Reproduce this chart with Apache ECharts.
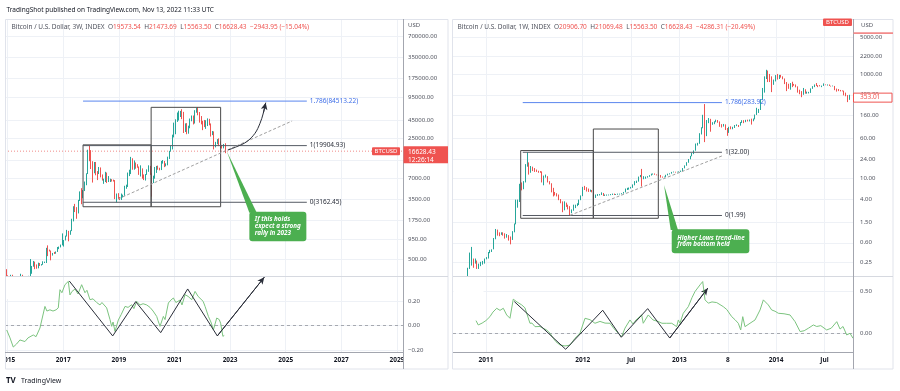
<!DOCTYPE html>
<html><head><meta charset="utf-8">
<script src="https://cdn.jsdelivr.net/npm/echarts@6/dist/echarts.min.js"></script>
<style>html,body{margin:0;padding:0;background:#fff}#c{width:900px;height:391px}</style>
</head><body><div id="c"></div>
<script>
const FONT = '"Noto Sans", "DejaVu Sans", sans-serif';
const UP = '#26a69a', DOWN = '#ef5350', GRIDC = '#eef1f6', AXISC = '#a3a6af';

// ---------- LEFT: BTCUSD 3W candles (start date + 21-day bars) ----------
const leftStart = '2014-11-24';
const leftStepDays = 21;
const leftOpen = [
375,350,275,255,235,290,247,222,242,225,
245,292,282,210,230,240,285,330,395,425,
385,375,435,412,420,445,448,700,660,655,
570,605,600,640,710,730,790,905,920,1050,
1230,1140,1250,1720,2550,2500,2250,3400,4350,4100,
4600,6100,8000,16500,13500,10800,8500,11500,8500,8100,
9400,7300,6700,6700,8200,6300,6300,6600,6450,6350,
3900,4000,3550,3450,3850,4000,5200,5300,8000,8000,
10600,10300,11400,10400,10000,8400,9400,7100,6900,7800,
8900,9700,7900,6400,6850,8600,10200,9300,9250,11200,
11750,10700,10800,13050,16700,19200,27000,36600,46400,49600,
54400,60000,56600,38800,40500,33700,35400,46000,51700,42200,
62000,66900,57800,46700,41800,38500,37000,39600,46400,40400,
29800,31300,20700,22400,23800,20200,19500,19100,19573.54];
const leftHigh = [
385,360,295,265,300,300,260,245,246,250,
310,300,285,240,245,290,500,400,470,460,
420,445,440,425,465,460,720,780,680,660,
610,630,640,740,750,800,1150,930,1070,1290,
1250,1270,1850,2780,3000,2700,3420,4500,5000,4700,
6200,8100,17400,19800,17200,12000,11700,11700,8700,9950,
9800,7800,6800,8500,8300,7400,6800,6700,6600,6500,
4200,4250,3750,4200,4050,5400,5600,8300,9100,13800,
13200,12300,11500,10900,10100,10500,9500,7800,7900,9200,
10500,10300,8100,7500,9950,10300,10400,9700,12100,12450,
12100,11200,13900,16800,19900,28400,42000,46800,58400,61800,
61400,64900,59600,41000,41300,38000,48000,52900,52900,62900,
68000,69000,59200,52000,44500,45800,45400,48200,47500,40900,
32000,31600,22500,24600,25200,22800,20400,21000,21473.69];
const leftLow = [
345,265,170,210,230,240,215,218,225,220,
240,270,195,200,225,235,280,310,390,360,
365,370,400,405,415,440,440,550,640,480,
560,590,595,630,690,730,780,750,915,1040,
890,1100,1240,1700,2300,1850,2200,3300,2970,3600,
4550,5500,7900,12000,9300,6000,8100,7600,6500,7900,
7100,6400,5750,6100,5900,6100,6100,6200,6200,3500,
3150,3500,3400,3400,3700,3900,4900,5200,7400,7900,
9100,9100,9400,9700,7700,7300,6800,6500,6400,7700,
8500,7700,3800,5900,6800,8200,9100,8900,9000,11100,
9900,10150,10500,12900,16400,17600,26000,28800,43000,45000,
50400,47000,30000,31000,28800,29300,35000,43900,39600,40800,
58000,53300,42000,39700,32900,36300,34300,37600,38500,26700,
28000,17600,18800,20800,19600,18500,18100,18200,15563.50];
const leftClose = [
350,275,255,235,290,247,222,242,225,245,
292,282,210,230,240,285,330,395,425,385,
375,435,412,420,445,448,700,660,655,570,
605,600,640,710,730,790,905,920,1050,1230,
1140,1250,1720,2550,2500,2250,3400,4350,4100,4600,
6100,8000,16500,13500,10800,8500,11500,8500,8100,9400,
7300,6700,6700,8200,6300,6300,6600,6450,6350,3900,
4000,3550,3450,3850,4000,5200,5300,8000,8000,10600,
10300,11400,10400,10000,8400,9400,7100,6900,7800,8900,
9700,7900,6400,6850,8600,10200,9300,9250,11200,11750,
10700,10800,13050,16700,19200,27000,36600,46400,49600,54400,
60000,56600,38800,40500,33700,35400,46000,51700,42200,62000,
66900,57800,46700,41800,38500,37000,39600,46400,40400,29800,
31300,20700,22400,23800,20200,19500,19100,19573.54,16628.43];

// ---------- RIGHT: BTCUSD 1W candles (2010-2014) ----------
const rightStart = '2010-09-06';
const rightStepDays = 7;
const rightOpen = [
0.060,0.062,0.062,0.063,0.062,0.064,0.100,0.100,0.190,0.260,
0.280,0.260,0.270,0.210,0.220,0.240,0.250,0.300,0.310,0.390,
0.420,0.450,0.720,1.050,0.900,0.880,0.920,0.900,0.800,0.820,
0.780,0.680,0.960,1.350,3.000,3.600,6.900,6.500,8.500,18.50,
19.00,15.00,16.50,15.50,14.50,14.00,13.70,13.50,10.00,11.00,
11.00,8.600,8.000,5.900,5.200,5.100,4.900,4.000,3.600,2.600,
3.200,3.100,2.900,2.300,2.500,2.800,3.100,3.200,3.950,4.700,
6.900,6.500,6.400,5.700,6.000,5.700,4.500,4.900,4.900,5.000,
5.300,4.800,4.800,4.900,4.900,5.000,5.100,5.000,5.000,5.100,
5.100,5.300,5.600,6.200,6.400,6.700,6.800,7.600,8.800,8.900,
10.90,11.50,10.20,10.60,10.80,11.00,11.60,12.30,12.40,12.00,
11.80,11.70,10.90,10.70,10.90,11.70,12.20,12.60,13.30,13.50,
13.30,13.40,13.70,14.10,15.90,17.80,20.40,23.60,27.00,30.30,
34.50,46.90,47.00,72.00,93.00,163.0,93.00,120.0,127.0,115.0,
115.0,123.0,128.0,122.0,101.0,100.0,107.0,88.00,76.00,96.00,
90.00,97.00,104.0,105.0,104.0,118.0,128.0,121.0,131.0,126.0,
133.0,131.0,138.0,167.0,194.0,210.0,325.0,520.0,815.0,1000,
890.0,880.0,625.0,745.0,900.0,860.0,940.0,890.0,815.0,680.0,
630.0,570.0,660.0,630.0,625.0,565.0,465.0,450.0,420.0,500.0,
440.0,440.0,440.0,525.0,580.0,630.0,600.0,595.0,590.0,595.0,
625.0,620.0,625.0,595.0,585.0,590.0,520.0,505.0,480.0,478.0,
475.0,400.0,385.0,330.0];
const rightHigh = [
0.065,0.065,0.066,0.064,0.066,0.110,0.105,0.200,0.390,0.500,
0.300,0.300,0.275,0.240,0.260,0.270,0.300,0.320,0.400,0.440,
0.450,0.740,1.100,1.070,0.950,0.950,0.950,0.910,0.880,0.840,
0.790,1.000,1.400,4.000,4.000,8.000,8.500,9.000,19.00,31.90,
20.50,17.50,17.00,16.00,15.00,14.20,14.00,13.80,11.50,12.00,
11.20,9.000,8.200,6.700,5.600,5.300,5.000,4.100,3.700,3.700,
3.500,3.200,3.000,2.600,3.200,3.200,3.400,4.000,4.800,7.000,
7.300,6.900,6.500,6.200,6.100,5.800,5.000,5.100,5.100,5.500,
5.350,5.000,5.000,5.000,5.100,5.200,5.200,5.100,5.200,5.200,
5.300,5.600,6.500,6.700,6.800,7.000,7.800,9.000,9.200,11.00,
11.80,15.40,11.20,11.00,11.20,11.70,12.50,12.60,12.60,12.10,
11.90,11.80,11.00,11.00,11.90,12.50,12.70,13.50,13.70,13.60,
13.60,13.80,14.30,16.00,18.00,20.70,23.80,27.30,31.00,34.80,
47.00,48.40,74.00,96.00,166.0,266.0,132.0,144.0,139.0,120.0,
125.0,134.0,132.0,124.0,110.0,111.0,109.0,93.00,98.00,100.0,
98.00,106.0,109.0,106.0,121.0,131.0,131.0,133.0,134.0,135.0,
140.0,141.0,168.0,226.0,215.0,330.0,540.0,900.0,1200,1160,
1000,900.0,780.0,950.0,1000,960.0,960.0,900.0,820.0,700.0,
650.0,670.0,710.0,645.0,630.0,580.0,500.0,470.0,540.0,510.0,
460.0,455.0,530.0,585.0,630.0,670.0,610.0,612.0,600.0,660.0,
630.0,630.0,628.0,595.0,600.0,590.0,525.0,515.0,495.0,485.0,
480.0,440.0,395.0,400.0];
const rightLow = [
0.058,0.058,0.060,0.060,0.060,0.062,0.090,0.100,0.190,0.220,
0.200,0.240,0.190,0.190,0.215,0.230,0.240,0.290,0.300,0.380,
0.400,0.450,0.700,0.820,0.800,0.850,0.820,0.720,0.750,0.660,
0.560,0.680,0.950,1.350,2.800,3.600,6.000,6.300,8.500,17.00,
12.00,13.00,14.00,13.50,13.50,13.00,13.00,8.500,7.500,10.50,
8.500,7.800,5.500,4.600,4.800,4.600,3.900,3.400,2.300,2.500,
2.900,2.600,2.000,2.200,2.450,2.750,3.000,3.150,3.900,4.650,
6.100,5.700,5.600,5.650,5.500,4.300,4.300,4.700,4.800,4.900,
4.700,4.700,4.750,4.800,4.850,4.900,4.900,4.900,4.950,5.000,
5.050,5.200,5.500,6.100,6.200,6.500,6.700,7.500,8.300,8.800,
10.70,7.100,9.800,10.00,10.50,10.90,11.50,12.00,11.90,11.60,
11.40,10.50,10.50,10.60,10.80,11.60,12.10,12.50,13.20,13.10,
13.20,13.30,13.50,14.00,15.80,17.70,20.20,23.50,26.80,29.50,
34.20,43.00,46.50,70.00,92.00,50.00,65.00,115.0,79.00,107.0,
110.0,120.0,117.0,98.00,95.00,99.00,85.00,66.00,75.00,88.00,
88.00,93.00,101.0,97.00,103.0,116.0,115.0,120.0,124.0,124.0,
108.0,125.0,136.0,165.0,180.0,205.0,320.0,440.0,800.0,700.0,
700.0,450.0,620.0,720.0,780.0,800.0,850.0,790.0,640.0,470.0,
520.0,500.0,560.0,595.0,555.0,440.0,410.0,360.0,400.0,420.0,
420.0,425.0,435.0,520.0,560.0,590.0,560.0,580.0,560.0,590.0,
610.0,600.0,590.0,575.0,580.0,490.0,460.0,470.0,465.0,465.0,
390.0,375.0,290.0,320.0];
const rightClose = [
0.062,0.062,0.063,0.062,0.064,0.100,0.100,0.190,0.260,0.280,
0.260,0.270,0.210,0.220,0.240,0.250,0.300,0.310,0.390,0.420,
0.450,0.720,1.050,0.900,0.880,0.920,0.900,0.800,0.820,0.780,
0.680,0.960,1.350,3.000,3.600,6.900,6.500,8.500,18.50,19.00,
15.00,16.50,15.50,14.50,14.00,13.70,13.50,10.00,11.00,11.00,
8.600,8.000,5.900,5.200,5.100,4.900,4.000,3.600,2.600,3.200,
3.100,2.900,2.300,2.500,2.800,3.100,3.200,3.950,4.700,6.900,
6.500,6.400,5.700,6.000,5.700,4.500,4.900,4.900,5.000,5.300,
4.800,4.800,4.900,4.900,5.000,5.100,5.000,5.000,5.100,5.100,
5.300,5.600,6.200,6.400,6.700,6.800,7.600,8.800,8.900,10.90,
11.50,10.20,10.60,10.80,11.00,11.60,12.30,12.40,12.00,11.80,
11.70,10.90,10.70,10.90,11.70,12.20,12.60,13.30,13.50,13.30,
13.40,13.70,14.10,15.90,17.80,20.40,23.60,27.00,30.30,34.50,
46.90,47.00,72.00,93.00,163.0,93.00,120.0,127.0,115.0,115.0,
123.0,128.0,122.0,101.0,100.0,107.0,88.00,76.00,96.00,90.00,
97.00,104.0,105.0,104.0,118.0,128.0,121.0,131.0,126.0,133.0,
131.0,138.0,167.0,194.0,210.0,325.0,520.0,815.0,1000,890.0,
880.0,625.0,745.0,900.0,860.0,940.0,890.0,815.0,680.0,630.0,
570.0,660.0,630.0,625.0,565.0,465.0,450.0,420.0,500.0,440.0,
440.0,440.0,525.0,580.0,630.0,600.0,595.0,590.0,595.0,625.0,
620.0,625.0,595.0,585.0,590.0,520.0,505.0,480.0,478.0,475.0,
400.0,385.0,330.0,353.01];

// ---------- Oscillators ----------
const leftOscYears = [2014.964,2015.083,2015.20,2015.32,2015.44,2015.62,2015.73,2015.92,2016.02,2016.16,2016.23,2016.34,2016.41,2016.52,2016.63,2016.74,2016.82,2016.88,2016.95,2017.06,2017.18,2017.24,2017.31,2017.42,2017.53,2017.66,2017.78,2017.85,2017.96,2018.07,2018.20,2018.32,2018.39,2018.56,2018.68,2018.74,2018.79,2018.86,2018.98,2019.08,2019.22,2019.33,2019.46,2019.54,2019.64,2019.76,2019.87,2020.00,2020.12,2020.23,2020.36,2020.41,2020.48,2020.60,2020.66,2020.78,2020.87,2020.96,2021.05,2021.20,2021.27,2021.38,2021.49,2021.62,2021.74,2021.85,2021.92,2022.03,2022.10,2022.22,2022.31,2022.40,2022.52,2022.61,2022.66,2022.74,2022.79];
const leftOscValues = [-0.035,-0.10,-0.175,-0.15,-0.117,-0.13,-0.10,-0.076,-0.09,-0.019,-0.03,0.158,0.12,0.13,0.12,0.13,0.146,0.295,0.27,0.336,0.363,0.252,0.28,0.30,0.26,0.336,0.27,0.29,0.213,0.22,0.19,0.17,0.19,0.146,0.05,-0.005,0.03,-0.047,0.047,0.09,0.158,0.15,0.172,0.14,0.2,0.17,0.18,0.17,0.15,0.12,0.076,0.04,-0.005,0.076,0.05,0.186,0.21,0.227,0.19,0.21,0.17,0.254,0.24,0.213,0.281,0.24,0.25,0.20,0.158,0.076,0.03,-0.033,0.063,0.05,0.02,-0.087,-0.08];
const rightOscYears = [2010.897,2010.920,2010.96,2011.0,2011.041,2011.072,2011.111,2011.145,2011.179,2011.214,2011.248,2011.282,2011.32,2011.369,2011.403,2011.455,2011.476,2011.507,2011.558,2011.589,2011.628,2011.662,2011.696,2011.724,2011.765,2011.817,2011.869,2011.920,2011.972,2012.024,2012.076,2012.127,2012.179,2012.231,2012.282,2012.32,2012.368,2012.403,2012.437,2012.489,2012.52,2012.551,2012.61,2012.626,2012.678,2012.727,2012.779,2012.82,2012.869,2012.921,2012.972,2012.989,2013.006,2013.04,2013.092,2013.13,2013.161,2013.213,2013.241,2013.265,2013.299,2013.337,2013.386,2013.454,2013.49,2013.541,2013.575,2013.609,2013.634,2013.655,2013.678,2013.730,2013.782,2013.834,2013.868,2013.919,2013.954,2013.989,2014.023,2014.082,2014.144,2014.196,2014.248,2014.29,2014.333,2014.385,2014.42,2014.462,2014.523,2014.57,2014.627,2014.661,2014.692,2014.730,2014.764,2014.795];
const rightOscValues = [0.149,0.098,0.12,0.15,0.196,0.25,0.295,0.27,0.295,0.216,0.177,0.402,0.37,0.335,0.30,0.118,0.12,0.078,0.08,0.06,0.039,0.0,-0.059,-0.10,-0.138,-0.15,-0.14,-0.059,0.0,0.177,0.16,0.118,0.14,0.12,0.118,0.06,0.0,-0.04,0.06,0.157,0.11,0.157,0.216,0.118,0.216,0.157,0.14,0.118,0.118,0.118,0.078,0.157,0.118,0.236,0.314,0.42,0.492,0.571,0.61,0.394,0.355,0.37,0.362,0.314,0.28,0.196,0.16,0.118,0.039,0.196,0.078,0.118,0.157,0.275,0.394,0.335,0.275,0.26,0.236,0.23,0.216,0.137,0.02,0.03,0.059,0.098,0.08,0.09,0.039,0.06,0.137,0.05,0.08,-0.02,0.0,-0.059];

// ---------- Drawings (data coordinates) ----------
const leftZigYears = [2017.216,2018.777,2019.604,2020.504,2021.475,2022.540,2024.230];
const leftZigValues = [0.366,-0.084,0.197,-0.057,0.301,-0.084,0.397];
const rightZigYears = [2011.293,2011.824,2012.207,2012.399,2012.672,2012.900,2013.293];
const rightZigValues = [0.374,-0.189,0.272,-0.047,0.291,-0.056,0.532];
const leftCurveYears = [2022.925,2023.237,2023.597,2023.896,2024.076,2024.194,2024.281];
const leftCurvePrices = [17260,19230,22600,29700,41100,56900,80000];
const leftFibLevels = [84513.22,19904.93,3162.45];
const leftFibLabels = ['1.786(84513.22)','1(19904.93)','0(3162.45)'];
const leftFibSpan = [2017.71,2025.76];
const rightFibLevels = [283.92,32.00,1.99];
const rightFibLabels = ['1.786(283.92)','1(32.00)','0(1.99)'];
const rightFibSpan = [2011.38,2013.44];
const leftBoxes = [[2017.71,2020.16,20400,2735],[2020.16,2022.66,69000,2735]];
const rightBoxes = [[2011.359,2012.110,34.5,1.76],[2012.110,2012.782,88.9,1.76]];
const leftTrendYears = [2018.97,2025.23];
const leftTrendPrices = [3515,44300];
const rightTrendYears = [2011.869,2013.448];
const rightTrendPrices = [2.01,27.6];
const leftNote = ['If this holds','expect a strong','rally in 2023'];
const leftNoteAnchor = [2022.88,16628.43];
const rightNote = ['Higher Lows trend-line','from bottom held'];
const rightNoteAnchor = [2012.841,7.6];

// ---------- Axes ticks ----------
const leftTickYears = [2015,2017,2019,2021,2023,2025,2027,2029];
const leftTickLabels = ['2015','2017','2019','2021','2023','2025','2027','2029'];
const rightTickYears = [2011,2012,2012.5,2013,2013.5,2014,2014.5];
const rightTickLabels = ['2011','2012','Jul','2013','8','2014','Jul'];
const leftPriceGrid = [500,950,1750,3500,7000,12500,25000,45000,95000,175000,350000,700000];
const leftPriceLabels = [500,950,1750,3500,7000,25000,45000,95000,175000,350000,700000];
const rightPriceGrid = [0.25,0.6,1.5,4,10,24,60,160,400,1000,2200,5000];
const rightPriceLabels = [0.25,0.6,1.5,4,10,24,60,160,400,1000,2200,5000];
const leftOscTicks = [-0.2,0,0.2];
const rightOscTicks = [0,0.5];

// header texts
const leftHeaderName = 'Bitcoin / U.S. Dollar, 3W, INDEX';
const leftHeaderOHLC = ['19573.54','21473.69','15563.50','16628.43'];
const leftHeaderChange = '\u22122943.95 (\u221215.04%)';
const rightHeaderName = 'Bitcoin / U.S. Dollar, 1W, INDEX';
const rightHeaderOHLC = ['20906.70','21069.48','15563.50','16628.43'];
const rightHeaderChange = '\u22124286.31 (\u221220.49%)';
const leftLast = 16628.43;
const rightLast = 353.01;

// ---------- helpers ----------
function decYear(ms){ const d=new Date(ms); const y=d.getUTCFullYear(); const s=Date.UTC(y,0,1), e=Date.UTC(y+1,0,1); return y+(ms-s)/(e-s); }
function candles(start, step, O, H, L, C){
  const t0 = Date.parse(start+'T00:00:00Z');
  return O.map((o,i)=>[decYear(t0+i*step*864e5), o, C[i], L[i], H[i]]);
}
function zip(a,b){ const n=Math.min(a.length,b.length); const r=[]; for(let i=0;i<n;i++) r.push([a[i],b[i]]); return r; }
function lab(ticks, labels, v){ const i=ticks.findIndex(t=>Math.abs(t-v)<1e-6); return i>=0?labels[i]:''; }
function fmtNum(v){ return (v<0?'\u2212':'')+Math.abs(v).toFixed(2); }

const L_X=[2014.903,2029.22], R_X=[2010.659,2014.795];
const L_Y=[283.8,1215800], R_Y=[0.1363,11180];
const L_O=[-0.2156,0.399], R_O=[-0.221,0.664];

function xAx(gi, range, ticks, labels, show){
  return {type:'value', gridIndex:gi, min:range[0], max:range[1],
    axisLine:{show:false}, axisTick:{show:false, customValues:ticks},
    axisLabel:{show:show, customValues:ticks, formatter:v=>lab(ticks,labels,v), color:'#131722', fontSize:6.5, fontWeight:'bold', fontFamily:FONT, margin:5},
    splitLine:{show:true, lineStyle:{color:GRIDC, width:1}}};
}
function yAx(gi, type, range, grid, labels, margin){
  const o = {type:type, gridIndex:gi, position:'right', min:range[0], max:range[1],
    axisLine:{show:false}, axisTick:{show:false, customValues:grid},
    axisLabel:{show:true, customValues:labels, formatter:v=>fmtNum(v), color:'#50535e', fontSize:6, fontFamily:FONT, margin:margin, align:'left'},
    splitLine:{show:true, lineStyle:{color:GRIDC, width:1}}};
  if(type==='log') o.logBase=10;
  return o;
}
function ann(gi, pts, style, extra){
  return Object.assign({type:'line', xAxisIndex:gi, yAxisIndex:gi, data:pts, symbol:'none', showSymbol:false, silent:true, clip:false, lineStyle:style, z:4}, extra||{});
}
function candleSeries(gi, data){
  return {type:'candlestick', xAxisIndex:gi, yAxisIndex:gi, data:data, barWidth:0.8, clip:true, silent:true,
    itemStyle:{color:UP, color0:DOWN, borderColor:UP, borderColor0:DOWN, borderWidth:1}, z:3};
}
function arrowML(xs, ys, color){
  const n=xs.length;
  return {silent:true, symbol:['none','arrow'], symbolSize:[5,7], label:{show:false}, lineStyle:{color:color, width:1, type:'solid'},
    data:[[{coord:[xs[n-2],ys[n-2]]},{coord:[xs[n-1],ys[n-1]]}]]};
}

const series = [];
// left main
series.push(candleSeries(0, candles(leftStart,leftStepDays,leftOpen,leftHigh,leftLow,leftClose)));
series.push(ann(0, [[L_X[0],leftLast],[L_X[1],leftLast]], {color:'#f08a88', width:1, type:[1,2]}, {z:2}));
leftBoxes.forEach(b=>series.push(ann(0, [[b[0],b[2]],[b[1],b[2]],[b[1],b[3]],[b[0],b[3]],[b[0],b[2]]], {color:'#4a4a4a', width:1})));
leftFibLevels.forEach((lv,i)=>series.push(ann(0, [[leftFibSpan[0],lv],[leftFibSpan[1],lv]], {color:i===0?'#5b86ee':'#555a63', width:1},
  {endLabel:{show:true, formatter:leftFibLabels[i], color:i===0?'#3f6fe8':'#2a2e39', fontSize:6.5, fontFamily:FONT, distance:3}})));
series.push(ann(0, zip(leftTrendYears,leftTrendPrices), {color:'#a0a0a0', width:1, type:[3,2]}));
series.push(ann(0, zip(leftCurveYears,leftCurvePrices), {color:'#2a2e39', width:1}, {smooth:0.35, markLine:arrowML(leftCurveYears,leftCurvePrices,'#2a2e39')}));
// left osc
series.push(ann(1, zip(leftOscYears,leftOscValues), {color:'#7cc47f', width:1}, {clip:true, z:5,
  markLine:{silent:true, symbol:['none','none'], label:{show:false}, lineStyle:{type:[3,3], color:'#a6a9b0', width:1}, data:[{yAxis:0}]}}));
series.push(ann(1, zip(leftZigYears,leftZigValues), {color:'#2a2e39', width:1}, {z:6, markLine:arrowML(leftZigYears,leftZigValues,'#2a2e39')}));
// right main
series.push(candleSeries(2, candles(rightStart,rightStepDays,rightOpen,rightHigh,rightLow,rightClose)));
rightBoxes.forEach(b=>series.push(ann(2, [[b[0],b[2]],[b[1],b[2]],[b[1],b[3]],[b[0],b[3]],[b[0],b[2]]], {color:'#4a4a4a', width:1})));
rightFibLevels.forEach((lv,i)=>series.push(ann(2, [[rightFibSpan[0],lv],[rightFibSpan[1],lv]], {color:i===0?'#5b86ee':'#555a63', width:1},
  {endLabel:{show:true, formatter:rightFibLabels[i], color:i===0?'#3f6fe8':'#2a2e39', fontSize:6.5, fontFamily:FONT, distance:3}})));
series.push(ann(2, zip(rightTrendYears,rightTrendPrices), {color:'#a0a0a0', width:1, type:[3,2]}));
// right osc
series.push(ann(3, zip(rightOscYears,rightOscValues), {color:'#7cc47f', width:1}, {clip:true, z:5,
  markLine:{silent:true, symbol:['none','none'], label:{show:false}, lineStyle:{type:[3,3], color:'#a6a9b0', width:1}, data:[{yAxis:0}]}}));
series.push(ann(3, zip(rightZigYears,rightZigValues), {color:'#2a2e39', width:1}, {z:6, markLine:arrowML(rightZigYears,rightZigValues,'#2a2e39')}));

const gridBase = {containLabel:false, outerBoundsMode:'none', show:false};
const option = {
  animation:false,
  backgroundColor:'#ffffff',
  textStyle:{fontFamily:FONT},
  grid:[
    Object.assign({left:5, top:19, width:398, height:257.5}, gridBase),
    Object.assign({left:5, top:277, width:398, height:75}, gridBase),
    Object.assign({left:453, top:19, width:400, height:257.5}, gridBase),
    Object.assign({left:453, top:277, width:400, height:75}, gridBase)
  ],
  xAxis:[
    xAx(0,L_X,leftTickYears,leftTickLabels,false),
    xAx(1,L_X,leftTickYears,leftTickLabels,true),
    xAx(2,R_X,rightTickYears,rightTickLabels,false),
    xAx(3,R_X,rightTickYears,rightTickLabels,true)
  ],
  yAxis:[
    yAx(0,'log',L_Y,leftPriceGrid,leftPriceLabels,5),
    yAx(1,'value',L_O,leftOscTicks,leftOscTicks,5),
    yAx(2,'log',R_Y,rightPriceGrid,rightPriceLabels,7),
    yAx(3,'value',R_O,rightOscTicks,rightOscTicks,7)
  ],
  series:series
};

const chart = echarts.init(document.getElementById('c'), null, {renderer:'canvas', width:900, height:391});
chart.setOption(option);

// ---------- overlay graphics (positions derived from data via the chart's scales) ----------
try {
  const P = (gi,x,y)=>chart.convertToPixel({gridIndex:gi},[x,y]);
  const g = [];
  const T = (x,y,t,o)=>g.push({type:'text', x:x, y:y, z:120, silent:true,
    style:Object.assign({text:t, fill:'#131722', fontSize:6.5, fontFamily:FONT, align:'left', verticalAlign:'middle', textAlign:'left', textVerticalAlign:'middle'}, o||{})});
  const R = (x,y,w,h,st,z)=>g.push({type:'rect', z:(z==null?110:z), silent:true, shape:{x:x,y:y,width:w,height:h,r:(st&&st.r)||0}, style:Object.assign({fill:'none'}, st||{})});
  const Ln = (x1,y1,x2,y2,c,z)=>g.push({type:'line', z:z||111, silent:true, shape:{x1:x1,y1:y1,x2:x2,y2:y2}, style:{stroke:c, lineWidth:1}});

  // clip candles that spill below the price pane (only where no oscillator content is)
  R(5.5,277,55,22,{fill:'#fff'},3.5);
  R(453.5,277,30,22,{fill:'#fff'},3.5);

  // masks for clipped time labels
  R(0,353,5,15,{fill:'#fff'},105);
  R(404,353,44,15,{fill:'#fff'},105);
  R(854,353,39,15,{fill:'#fff'},105);

  // frames and separators
  R(5.5,19.5,442.5,349.5,{stroke:'#e0e3eb', fill:'none'},111);
  R(452.5,19.5,440.5,349.5,{stroke:'#e0e3eb', fill:'none'},111);
  Ln(5,276.5,448,276.5,'#d6d9e0'); Ln(453,276.5,893,276.5,'#d6d9e0');
  Ln(5,352.5,403,352.5,AXISC); Ln(453,352.5,853,352.5,AXISC);
  Ln(403.5,19,403.5,369,AXISC); Ln(853.5,19,853.5,369,AXISC);

  // title & headers
  T(6.5,10,'TradingShot published on TradingView.com, Nov 13, 2022 11:33 UTC',{fontSize:6.5});
  const rich = {g:{fill:'#50535e', fontSize:6.5, fontFamily:FONT}, r:{fill:DOWN, fontSize:6.5, fontFamily:FONT}};
  const hdr = (name,ohlc,chg)=>'{g|'+name+'}  {g|O}{r|'+ohlc[0]+'}  {g|H}{r|'+ohlc[1]+'}  {g|L}{r|'+ohlc[2]+'}  {g|C}{r|'+ohlc[3]+'}  {r|'+chg+'}';
  T(11.5,27,hdr(leftHeaderName,leftHeaderOHLC,leftHeaderChange),{rich:rich});
  T(457.5,27,hdr(rightHeaderName,rightHeaderOHLC,rightHeaderChange),{rich:rich});
  T(408,25,'USD',{fontSize:6,fill:'#50535e'});
  T(861,25,'USD',{fontSize:6,fill:'#50535e'});

  // left price tags
  const pl = P(0,2020,leftLast)[1];
  R(403.5,pl-5,44.5,17,{fill:DOWN},112);
  T(408,pl+0.5,leftLast.toFixed(2),{fill:'#fff',fontSize:6.5});
  T(408,pl+8.5,'12:26:14',{fill:'#fff',fontSize:6.5});
  R(372,pl-4,28,8,{fill:DOWN,r:1},112);
  T(386,pl,'BTCUSD',{fill:'#fff',fontSize:6,align:'center',textAlign:'center'});

  // right price tags
  const pr = P(2,2012,rightLast)[1];
  R(853.5,pr-4.5,38.5,9,{fill:'#fff',stroke:DOWN},112);
  T(860,pr,rightLast.toFixed(2),{fill:DOWN,fontSize:6.5});
  R(823,18.5,29,7.5,{fill:DOWN,r:1},112);
  T(837.5,22.3,'BTCUSD',{fill:'#fff',fontSize:6,align:'center',textAlign:'center'});
  R(853.5,32.3,39.5,1.6,{fill:'#f28b8b'},112);

  // callouts
  const GREEN = '#4caf50';
  const a1 = P(0,leftNoteAnchor[0],leftNoteAnchor[1]);
  g.push({type:'polygon', z:114, silent:true, shape:{points:[[a1[0],a1[1]],[a1[0]+22.6,a1[1]+61.5],[a1[0]+30,a1[1]+61.5]]}, style:{fill:GREEN}});
  R(a1[0]+22.6,a1[1]+60.5,57,29.5,{fill:GREEN,r:3},114);
  leftNote.forEach((t,i)=>T(a1[0]+28,a1[1]+68.5+i*6.7,t,{fill:'#fff',fontSize:6.3,fontStyle:'italic',fontWeight:'bold'}));
  const a2 = P(2,rightNoteAnchor[0],rightNoteAnchor[1]);
  g.push({type:'polygon', z:114, silent:true, shape:{points:[[a2[0],a2[1]],[a2[0]+6.7,a2[1]+45],[a2[0]+14,a2[1]+45]]}, style:{fill:GREEN}});
  R(a2[0]+7.7,a2[1]+44.3,77.6,24,{fill:GREEN,r:3},114);
  rightNote.forEach((t,i)=>T(a2[0]+13.3,a2[1]+53.3+i*6.4,t,{fill:'#fff',fontSize:6.3,fontStyle:'italic',fontWeight:'bold'}));

  // logo
  T(6,380.5,'TV',{fontSize:8,fontWeight:'bold',fill:'#131722'});
  T(21,380.5,'TradingView',{fontSize:7,fill:'#131722'});

  chart.setOption({graphic:{elements:g}});
} catch(e) { console.error(e); }
</script></body></html>
